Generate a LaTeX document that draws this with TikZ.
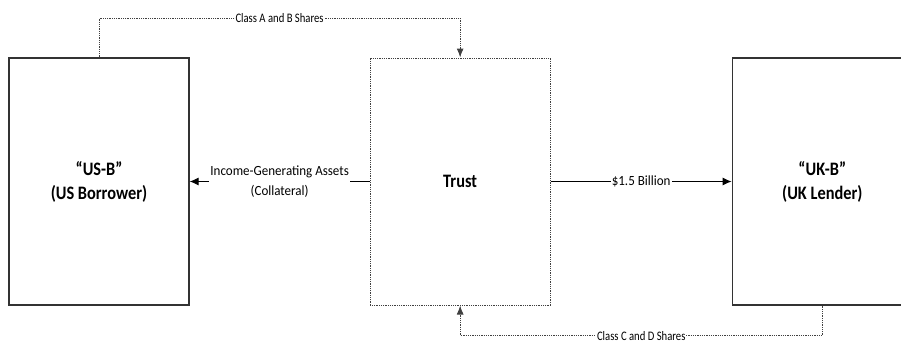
\documentclass[tikz,border=0pt]{standalone}
\usepackage{fontspec}
\setmainfont{Carlito}
\usetikzlibrary{arrows.meta,positioning}

\tikzset{
  party/.style={draw=black!80,line width=1.3pt,minimum width=180pt,minimum height=247pt,
    align=center,font=\fontsize{19}{24}\selectfont\bfseries\addfontfeature{FakeStretch=0.86}},
  trustbox/.style={draw=black!75,dash pattern=on 1pt off 0.8pt,line width=1pt,
    minimum width=180pt,minimum height=247pt,
    font=\fontsize{19}{24}\selectfont\bfseries\addfontfeature{FakeStretch=0.86}},
  flow/.style={-{Latex[length=9pt,width=8pt]},line width=1pt},
  share/.style={-{Latex[length=9pt,width=7pt]},line width=1pt,draw=black!75,
    dash pattern=on 1pt off 0.8pt},
  lbl/.style={fill=white,inner sep=1pt,align=center,
    font=\fontsize{14}{20}\selectfont\addfontfeature{FakeStretch=0.93}},
  sharelbl/.style={fill=white,inner sep=1pt,
    font=\fontsize{13}{15}\selectfont\addfontfeature{FakeStretch=0.82}}
}

\begin{document}
\begin{tikzpicture}[x=1pt,y=1pt]
  \useasboundingbox (0,0) rectangle (901,341);
  \node[party] (usb) at (99,159.5) {``US-B''\\(US Borrower)};
  \node[trustbox] (trust) [right=180pt of usb] {Trust};
  \node[party] (ukb) [right=181pt of trust] {``UK-B''\\(UK Lender)};
  \path[flow]
    (trust.west) edge node[lbl] {Income-Generating Assets\\(Collateral)} (usb.east)
    (trust.east) edge node[lbl] {\$1.5 Billion} (ukb.west);
  \draw[share] (usb.north) -- ++(0,39) -| node[sharelbl,pos=0.25] {Class A and B Shares} (trust.north);
  \draw[share] (ukb.south) -- ++(0,-30) -| node[sharelbl,pos=0.25] {Class C and D Shares} (trust.south);
\end{tikzpicture}
\end{document}
